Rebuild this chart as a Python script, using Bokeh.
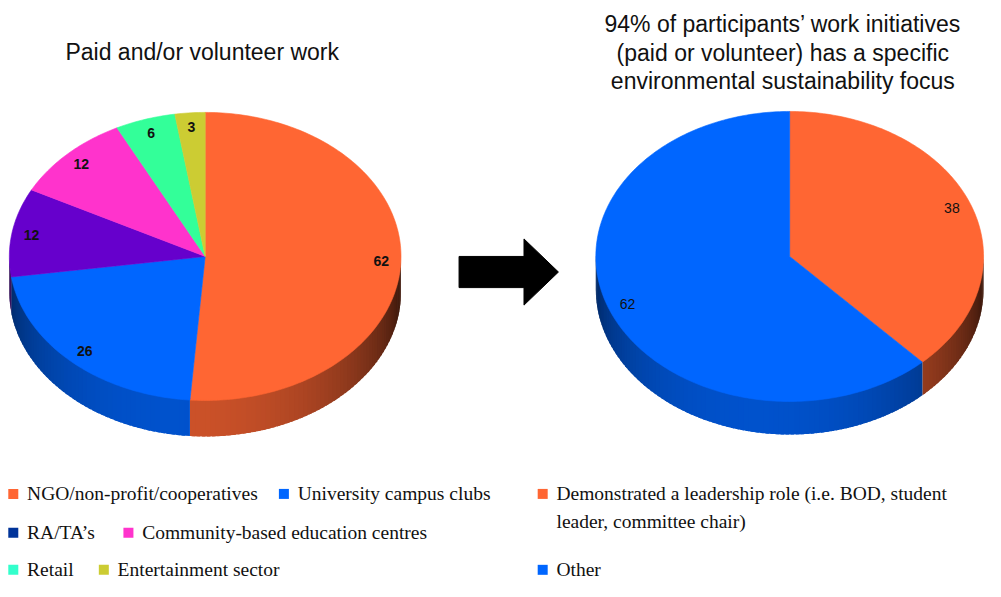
import math
from bokeh.plotting import figure
from bokeh.models import Range1d
from bokeh.core.properties import value
from bokeh.embed import file_html
from bokeh.resources import INLINE

# ---------------- data ----------------
left_title = "Paid and/or volunteer work"
left_labels = ["NGO/non-profit/cooperatives", "University campus clubs", "RA/TA\u2019s",
               "Community-based education centres", "Retail", "Entertainment sector"]
left_values = [62, 26, 12, 12, 6, 3]
left_colors = ["#FF6633", "#0066FF", "#6600CC", "#FF33CC", "#33FF99", "#CCCC33"]
left_legend_colors = ["#FF6633", "#0066FF", "#003399", "#FF33CC", "#33FFCC", "#CCCC33"]

right_title = ["94% of participants\u2019 work initiatives",
               "(paid or volunteer) has a specific",
               "environmental sustainability focus"]
right_labels = ["Demonstrated a leadership role (i.e. BOD, student\nleader, committee chair)", "Other"]
right_values = [38, 62]
right_colors = ["#FF6633", "#0066FF"]

# ---------------- figure ----------------
W, H = 985, 581
p = figure(width=W, height=H, x_range=Range1d(0, 1001), y_range=Range1d(597, 0),
           output_backend="svg", toolbar_location=None,
           x_axis_location=None, y_axis_location=None, min_border=0)
p.grid.visible = False
p.outline_line_color = None
p.background_fill_color = "white"


def hex_rgb(h):
    h = h.lstrip("#")
    return tuple(int(h[i:i + 2], 16) for i in (0, 2, 4))


def shade(h, f):
    r, g, b = hex_rgb(h)
    return "#%02x%02x%02x" % tuple(max(0, min(255, int(round(c * f)))) for c in (r, g, b))


def draw_pie(values, colors, cx, cy, rx, ry, depth, font_style):
    total = float(sum(values))
    bounds = [0.0]
    for v in values:
        bounds.append(bounds[-1] + v / total * 360.0)

    def pt(t, dy=0.0):
        r = math.radians(t)
        return cx + rx * math.sin(r), cy - ry * math.cos(r) + dy

    # side walls
    sxs, sys_, scol = [], [], []
    for i, v in enumerate(values):
        a0, a1 = max(bounds[i], 90.0), min(bounds[i + 1], 270.0)
        if a1 <= a0:
            continue
        n = max(2, int(math.ceil((a1 - a0) / 1.5)))
        for k in range(n):
            t0 = a0 + (a1 - a0) * k / n
            t1 = a0 + (a1 - a0) * (k + 1) / n
            tm = 0.5 * (t0 + t1)
            f = 0.26 + 0.54 * max(0.0, math.cos(math.radians(tm - 190)))
            te = min(t1 + 1.0, a1) if k < n - 1 else t1
            x0, y0 = pt(t0)
            x1, y1 = pt(te)
            sxs.append([x0, x1, x1, x0])
            sys_.append([y0 - 2, y1 - 2, y1 + depth, y0 + depth])
            scol.append(shade(colors[i], f))
    p.patches(sxs, sys_, fill_color=scol, line_color=None)

    # top faces
    txs, tys = [], []
    for i, v in enumerate(values):
        a0, a1 = bounds[i], bounds[i + 1]
        n = max(4, int(math.ceil((a1 - a0) / 1.0)))
        xs, ys = [cx], [cy]
        for k in range(n + 1):
            x, y = pt(a0 + (a1 - a0) * k / n)
            xs.append(x)
            ys.append(y)
        txs.append(xs)
        tys.append(ys)
    p.patches(txs, tys, fill_color=list(colors), line_color=list(colors), line_width=0.6)

    # value labels
    lx, ly, lt = [], [], []
    for i, v in enumerate(values):
        tm = 0.5 * (bounds[i] + bounds[i + 1])
        r = math.radians(tm)
        lx.append(cx + 0.9 * rx * math.sin(r))
        ly.append(cy - 0.9 * ry * math.cos(r))
        lt.append(str(v))
    p.text(lx, ly, text=lt, text_align="center", text_baseline="middle",
           text_font=value("Liberation Sans"), text_font_size="14px",
           text_font_style=font_style, text_color="#111111")


draw_pie(left_values, left_colors, 208, 263, 199, 148, 37, "bold")
draw_pie(right_values, right_colors, 802, 263, 197, 149, 34, "normal")

# titles
p.text([205], [53], text=[left_title], text_align="center", text_baseline="middle",
       text_font=value("Liberation Sans"), text_font_size="23px", text_color="#111111")
p.text([795] * len(right_title), [24, 54, 83], text=right_title, text_align="center",
       text_baseline="middle", text_font=value("Liberation Sans"), text_font_size="23px",
       text_color="#111111")

# arrow
ax0, ay = 466, 279
p.patch([ax0, ax0 + 66, ax0 + 66, ax0 + 101, ax0 + 66, ax0 + 66, ax0],
        [ay - 16, ay - 16, ay - 34, ay, ay + 34, ay + 16, ay + 16],
        fill_color="black", line_color="black")

# legends
leg_x = [13, 288, 13, 130, 13, 105]
leg_y = [507, 507, 547, 547, 585, 585]
p.scatter(leg_x, leg_y, marker="square", size=10, fill_color=left_legend_colors,
          line_color=None)
p.text([x + 14 for x in leg_x], leg_y, text=left_labels, text_align="left",
       text_baseline="middle", text_font=value("Liberation Serif"), text_font_size="19.5px",
       text_color="#111111")

r_leg_x = [551, 551]
r_leg_y = [507, 585]
p.scatter(r_leg_x, r_leg_y, marker="square", size=10, fill_color=right_colors, line_color=None)
rtx, rty, rtt = [], [], []
for i, lab in enumerate(right_labels):
    for j, line in enumerate(lab.split("\n")):
        rtx.append(r_leg_x[i] + 14)
        rty.append(r_leg_y[i] + 28 * j)
        rtt.append(line)
p.text(rtx, rty, text=rtt, text_align="left", text_baseline="middle",
       text_font=value("Liberation Serif"), text_font_size="19.5px", text_color="#111111")

open("out.html", "w").write(file_html(p, INLINE))
